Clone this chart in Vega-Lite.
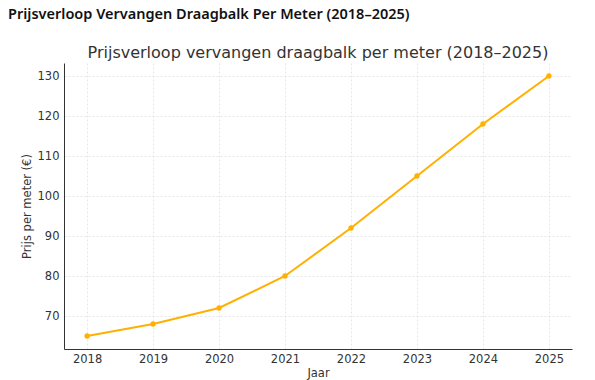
{
  "$schema": "https://vega.github.io/schema/vega-lite/v6.json",
  "padding": {"left": 8, "top": 6, "right": 23, "bottom": 2},
  "background": "white",
  "title": {"text": "Prijsverloop Vervangen Draagbalk Per Meter (2018–2025)", "anchor": "start", "font": "Noto Sans", "fontSize": 14.5, "fontWeight": 600, "color": "#111111", "offset": 23, "dx": -13},
  "vconcat": [
    {
      "width": 508,
      "height": 286,
      "title": {"text": "Prijsverloop vervangen draagbalk per meter (2018–2025)", "anchor": "middle", "font": "DejaVu Sans", "fontSize": 16, "fontWeight": "normal", "color": "#333333", "offset": 2},
      "data": {"values": [
        {"Jaar": 2018, "Prijs": 65},
        {"Jaar": 2019, "Prijs": 68},
        {"Jaar": 2020, "Prijs": 72},
        {"Jaar": 2021, "Prijs": 80},
        {"Jaar": 2022, "Prijs": 92},
        {"Jaar": 2023, "Prijs": 105},
        {"Jaar": 2024, "Prijs": 118},
        {"Jaar": 2025, "Prijs": 130}
      ]},
      "encoding": {
        "x": {"field": "Jaar", "type": "quantitative", "scale": {"domain": [2017.65, 2025.35], "nice": false, "zero": false},
              "axis": {"values": [2018, 2019, 2020, 2021, 2022, 2023, 2024, 2025], "format": "d", "title": "Jaar", "labelPadding": 4, "titlePadding": 3}},
        "y": {"field": "Prijs", "type": "quantitative", "scale": {"domain": [61.75, 133.25], "nice": false, "zero": false},
              "axis": {"values": [70, 80, 90, 100, 110, 120, 130], "title": "Prijs per meter (€)", "labelPadding": 5, "titlePadding": 5}}
      },
      "layer": [
        {"mark": {"type": "line", "color": "#FFB000", "strokeWidth": 2}},
        {"mark": {"type": "point", "filled": true, "color": "#FFB000", "size": 28, "opacity": 1}}
      ]
    }
  ],
  "config": {
    "view": {"stroke": null},
    "concat": {"spacing": 0},
    "axis": {
      "labelFont": "DejaVu Sans", "labelFontSize": 11.5, "labelColor": "#333333",
      "titleFont": "DejaVu Sans", "titleFontSize": 11.5, "titleColor": "#333333", "titleFontWeight": "normal",
      "domainColor": "#333333", "domainWidth": 1, "ticks": false,
      "gridColor": "#d6d6d6", "gridDash": [2, 2], "gridWidth": 0.6
    }
  }
}
